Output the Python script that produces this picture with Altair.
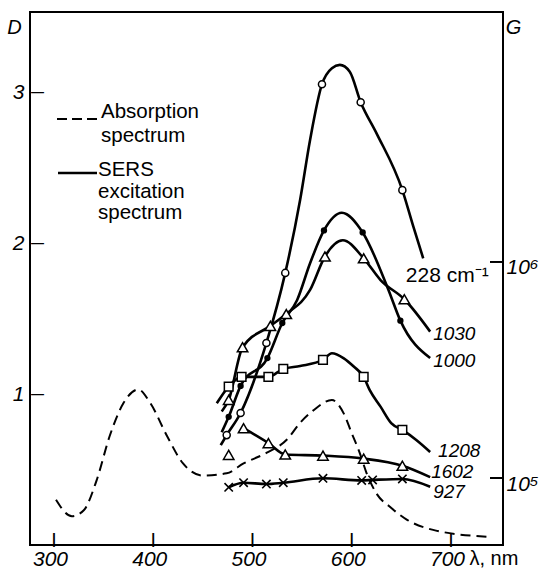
import altair as alt
import pandas as pd

# ---------------- data ----------------
# Absorption spectrum (left axis, optical density D)
abs_wl = [302, 318, 330, 343, 356, 370, 385, 397, 414, 430, 450, 474, 491, 514, 535,
          548, 561, 580, 592, 600, 608, 615, 625, 639, 655, 682, 736]
abs_D = [0.30, 0.19, 0.23, 0.43, 0.72, 0.94, 1.03, 0.94, 0.72, 0.54, 0.46, 0.475, 0.54, 0.61, 0.70,
         0.81, 0.89, 0.96, 0.87, 0.74, 0.61, 0.475, 0.34, 0.25, 0.17, 0.10, 0.055]

# SERS excitation spectra (right axis, enhancement G, log scale) - drawn curves
c228_wl = [468, 474, 488, 514, 533, 548, 558, 570, 580, 588, 598, 609, 625, 651, 662, 672]
c228_G = [1.42e5, 1.58e5, 2.0e5, 4.22e5, 8.9e5, 1.94e6, 3.67e6, 6.65e6, 7.89e6, 8.17e6,
          7.6e6, 5.49e6, 3.94e6, 2.15e6, 1.46e6, 1.04e6]
c1000_wl = [469, 476, 488, 515, 530, 545, 558, 572, 590, 611, 637, 649, 679]
c1000_G = [1.63e5, 1.92e5, 2.67e5, 3.59e5, 5.22e5, 6.67e5, 9.86e5, 1.40e6, 1.69e6, 1.37e6,
           7.42e5, 5.35e5, 3.59e5]
c1030_wl = [469, 476, 490, 518, 534, 558, 573, 591, 612, 629, 653, 679]
c1030_G = [2.03e5, 2.30e5, 4.03e5, 5.06e5, 5.74e5, 7.42e5, 1.06e6, 1.26e6, 1.04e6, 8.25e5,
           6.72e5, 4.76e5]
c1208_wl = [464, 476, 489, 516, 531, 548, 571, 580, 592, 602, 612, 618, 629, 640, 651, 665, 679]
c1208_G = [2.22e5, 2.65e5, 2.94e5, 2.94e5, 3.20e5, 3.30e5, 3.52e5, 3.78e5, 3.58e5, 3.28e5,
           2.94e5, 2.56e5, 2.14e5, 1.79e5, 1.67e5, 1.50e5, 1.32e5]
c1602_wl = [491, 516, 533, 571, 612, 651, 679]
c1602_G = [1.70e5, 1.45e5, 1.285e5, 1.27e5, 1.23e5, 1.14e5, 1.01e5]
c927_wl = [476, 491, 514, 531, 571, 610, 621, 651, 679]
c927_G = [9.06e4, 9.51e4, 9.38e4, 9.51e4, 9.97e4, 9.75e4, 9.8e4, 9.9e4, 9.11e4]

# measured points (markers)
m228_wl = [474, 488, 514, 533, 570, 609, 651]
m228_G = [1.58e5, 2.0e5, 4.22e5, 8.9e5, 6.65e6, 5.49e6, 2.15e6]
m1000_wl = [476, 488, 515, 530, 572, 611, 649]
m1000_G = [1.92e5, 2.67e5, 3.59e5, 5.22e5, 1.40e6, 1.37e6, 5.35e5]
m1030_wl = [476, 490, 518, 534, 573, 612, 653]
m1030_G = [2.30e5, 4.03e5, 5.06e5, 5.74e5, 1.06e6, 1.04e6, 6.72e5]
m1208_wl = [476, 489, 516, 531, 571, 612, 651]
m1208_G = [2.65e5, 2.94e5, 2.94e5, 3.20e5, 3.52e5, 2.94e5, 1.67e5]
m1602_wl = [476, 491, 516, 533, 571, 612, 651]
m1602_G = [1.28e5, 1.70e5, 1.45e5, 1.285e5, 1.27e5, 1.23e5, 1.14e5]
m927_wl = [476, 491, 514, 531, 571, 610, 621, 651]
m927_G = [9.06e4, 9.51e4, 9.38e4, 9.51e4, 9.97e4, 9.75e4, 9.8e4, 9.9e4]

# curve labels
label_text = ["1030", "1000", "1208", "1602", "927"]
label_wl = [682, 682, 687, 680, 682]
label_G = [4.35e5, 3.27e5, 1.25e5, 1.0e5, 8.08e4]
label228_text = ["228 cm\u207b\u00b9"]
label228_wl = [738]
label228_G = [8.07e5]

# axes
x_ticks = [300, 400, 500, 600, 700]
d_ticks = [1, 2, 3]
g_ticks = [1e5, 1e6]

# ---------------- chart ----------------
W, H = 473, 533
FONT = "Liberation Sans"
X_DOM = [275.8, 752.4]
D_DOM = [0, 3.53]
G_DOM = [48978, 14355000]

xscale = alt.Scale(domain=X_DOM, nice=False, zero=False)
dscale = alt.Scale(domain=D_DOM, nice=False, zero=False)
gscale = alt.Scale(type="log", domain=G_DOM, nice=False)

xaxis = alt.Axis(values=x_ticks, ticks=False, domain=False, grid=False, labelFlush=False,
                 labelFont=FONT, labelFontSize=21, labelFontStyle="italic", labelColor="black",
                 labelPadding=3, labelOffset=-4, title="\u03bb, nm", titleFont=FONT, titleFontSize=20,
                 titleFontWeight="normal", titleColor="black", titleX=439, titleY=19,
                 titleAlign="left", titleBaseline="alphabetic")
daxis = alt.Axis(orient="left", values=d_ticks, ticks=False, domain=False, grid=False,
                 labelFlush=False, labelFont=FONT, labelFontSize=21, labelFontStyle="italic",
                 labelColor="black", labelPadding=6, labelBaseline="middle",
                 title="D", titleFont=FONT, titleFontSize=20, titleFontStyle="italic",
                 titleFontWeight="normal", titleColor="black", titleAngle=0, titleX=-16, titleY=15,
                 titleAlign="center", titleBaseline="middle")
gaxis = alt.Axis(orient="right", values=g_ticks, ticks=False, domain=False, grid=False,
                 labelFlush=False, labelExpr="datum.value >= 1e6 ? '10\u2076' : '10\u2075'",
                 labelFont=FONT, labelFontSize=21, labelFontStyle="italic", labelColor="black",
                 labelPadding=3, labelBaseline="middle", labelOffset=6,
                 title="G", titleFont=FONT, titleFontSize=20, titleFontStyle="italic",
                 titleFontWeight="normal", titleColor="black", titleAngle=0, titleX=10, titleY=15,
                 titleAlign="center", titleBaseline="middle")

X = lambda f: alt.X(f"{f}:Q", scale=xscale, axis=xaxis)
YD = lambda f: alt.Y(f"{f}:Q", scale=dscale, axis=daxis)
YG = lambda f: alt.Y(f"{f}:Q", scale=gscale, axis=gaxis)

df_abs = pd.DataFrame({"wl": abs_wl, "D": abs_D})
curves = []
for name, wl, g in [("228", c228_wl, c228_G), ("1000", c1000_wl, c1000_G),
                    ("1030", c1030_wl, c1030_G), ("1208", c1208_wl, c1208_G),
                    ("1602", c1602_wl, c1602_G), ("927", c927_wl, c927_G)]:
    curves.append(pd.DataFrame({"wl": wl, "G": g, "series": name}))
df_curves = pd.concat(curves, ignore_index=True)

one = alt.Data(values=[{}])

# ----- layer A : absorption (D axis) + inward ticks + legend -----
abs_line = alt.Chart(df_abs).mark_line(
    interpolate="monotone", strokeDash=[10, 6], strokeWidth=2, color="black"
).encode(x=X("wl"), y=YD("D"))

# inward ticks on the bottom and left edges, drawn as glyphs placed through the scales
xtick_txt = alt.Chart(pd.DataFrame({"wl": x_ticks})).mark_text(
    text="|", font=FONT, fontSize=14, fontWeight="bold", color="black",
    baseline="middle", align="center"
).encode(x=X("wl"), y=alt.value(H - 5))

dtick_txt = alt.Chart(pd.DataFrame({"D": d_ticks})).mark_text(
    text="\u2014", font=FONT, fontSize=13, fontWeight="bold", color="black",
    baseline="middle", align="left"
).encode(y=YD("D"), x=alt.value(1))

leg_dash = alt.Chart(one).mark_rule(color="black", strokeWidth=2, strokeDash=[10, 5]).encode(
    x=alt.value(27), x2=alt.value(67), y=alt.value(107))
leg_solid = alt.Chart(one).mark_rule(color="black", strokeWidth=2.6).encode(
    x=alt.value(28), x2=alt.value(67), y=alt.value(161))
leg_t1 = alt.Chart(one).mark_text(
    align="left", baseline="alphabetic", font=FONT, fontSize=20.5, lineHeight=23.5, color="black",
    text=["Absorption", "spectrum"]
).encode(x=alt.value(71), y=alt.value(106))
leg_t2 = alt.Chart(one).mark_text(
    align="left", baseline="alphabetic", font=FONT, fontSize=20.5, lineHeight=21.5, color="black",
    text=["SERS", "excitation", "spectrum"]
).encode(x=alt.value(68), y=alt.value(164))

layerA = alt.layer(abs_line, leg_dash, leg_solid, leg_t1, leg_t2, xtick_txt, dtick_txt)

# ----- layer B : SERS curves (G axis) -----
sers_lines = alt.Chart(df_curves).mark_line(
    interpolate="monotone", strokeWidth=2.6, color="black"
).encode(x=X("wl"), y=YG("G"), detail="series:N")

def markers(wl, g, **kw):
    return alt.Chart(pd.DataFrame({"wl": wl, "G": g})).mark_point(opacity=1, **kw).encode(
        x=X("wl"), y=YG("G"))

open_style = dict(filled=True, fill="white", stroke="black", strokeWidth=1.5)
mk228 = markers(m228_wl, m228_G, shape="circle", size=50, **open_style)
mk1000 = markers(m1000_wl, m1000_G, shape="circle", size=40, filled=True, color="black")
mk1030 = markers(m1030_wl, m1030_G, shape="triangle-up", size=110, **open_style)
mk1208 = markers(m1208_wl, m1208_G, shape="square", size=75, **open_style)
mk1602 = markers(m1602_wl, m1602_G, shape="triangle-up", size=110, **open_style)
mk927 = markers(m927_wl, m927_G, shape="M-1,-1L1,1M-1,1L1,-1", size=70, filled=False,
                stroke="black", strokeWidth=1.6)

gtick_rule = alt.Chart(pd.DataFrame({"G": g_ticks})).mark_rule(
    stroke="black", strokeWidth=2
).encode(y=YG("G"), x=alt.value(W - 1), x2=alt.value(W - 13))

labels = alt.Chart(pd.DataFrame({"wl": label_wl, "G": label_G, "t": label_text})).mark_text(
    align="left", baseline="alphabetic", font=FONT, fontSize=19, fontStyle="italic", color="black"
).encode(x=X("wl"), y=YG("G"), text="t:N")

label228 = alt.Chart(pd.DataFrame({"wl": label228_wl, "G": label228_G, "t": label228_text})).mark_text(
    align="right", baseline="alphabetic", font=FONT, fontSize=21, color="black"
).encode(x=X("wl"), y=YG("G"), text="t:N")

layerB = alt.layer(sers_lines, mk228, mk1000, mk1030, mk1208, mk1602, mk927,
                   labels, label228, gtick_rule)

chart = alt.layer(layerA, layerB).resolve_scale(y="independent").properties(
    width=W, height=H,
    autosize=alt.AutoSizeParams(type="none"),
    padding={"left": 30, "top": 12, "right": 36, "bottom": 26},
    background="white",
).configure_view(stroke="black", strokeWidth=2)

chart.save("out.html", embed_options={"renderer": "svg", "actions": False})
